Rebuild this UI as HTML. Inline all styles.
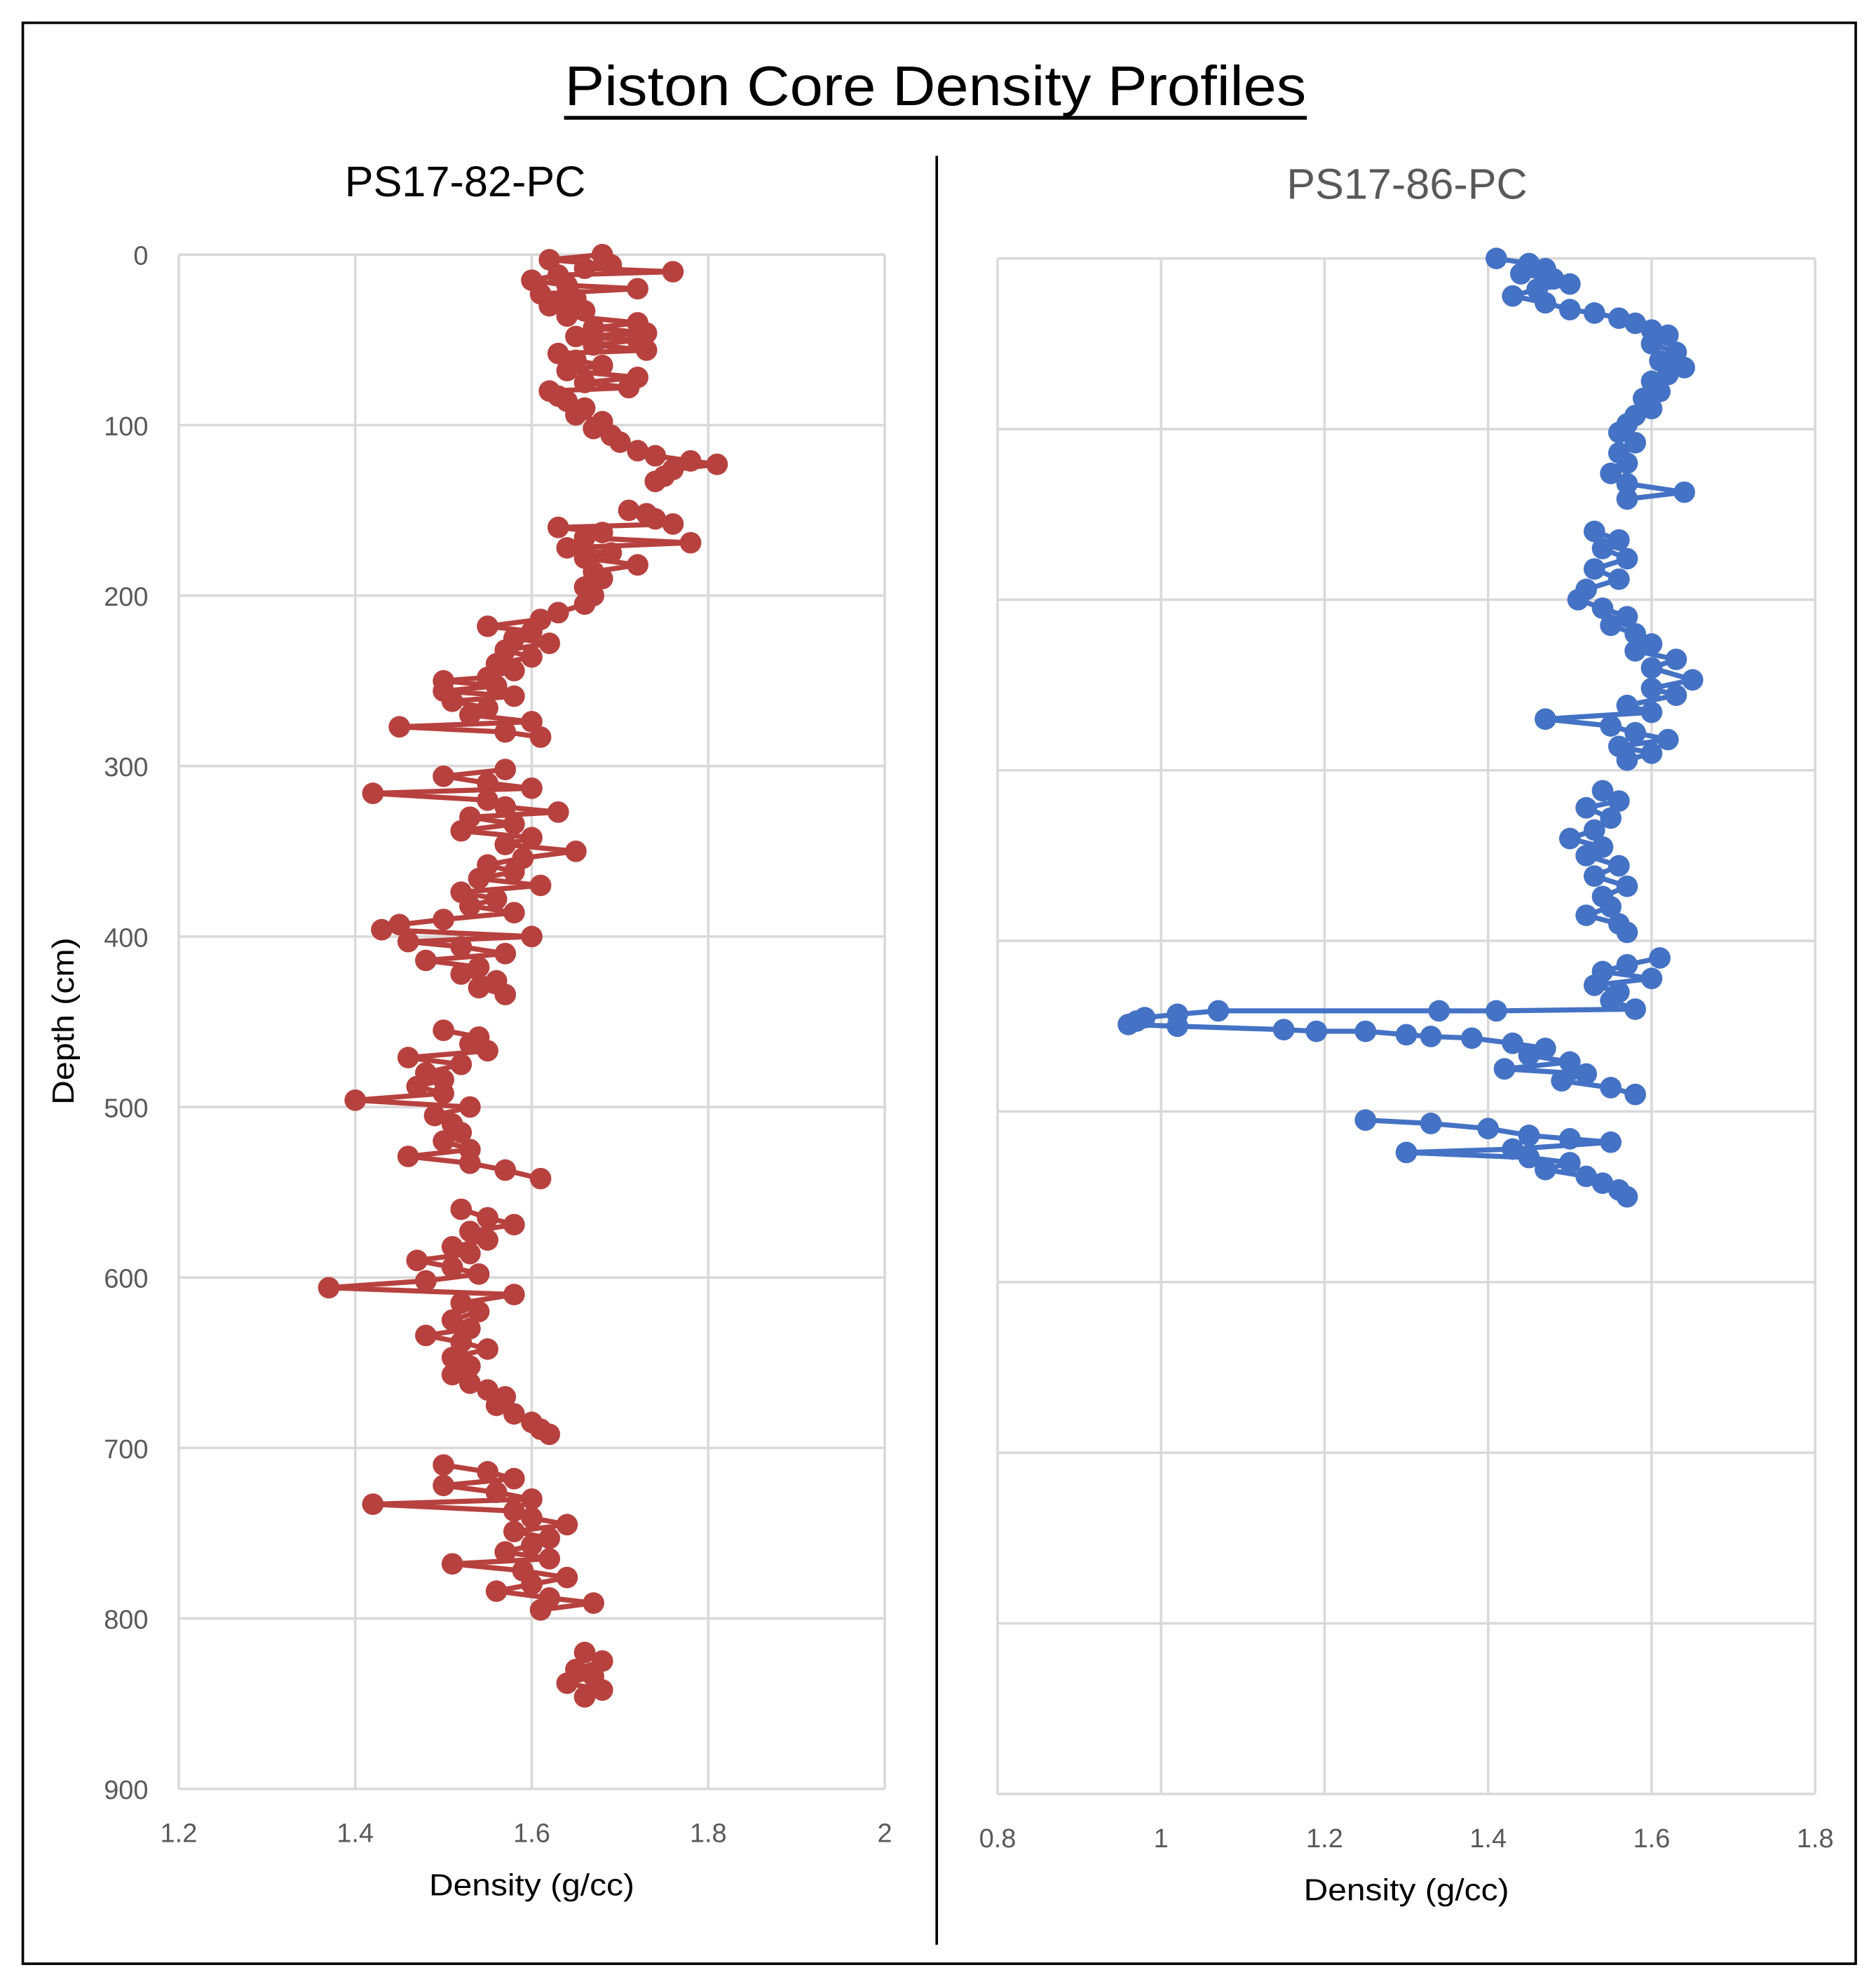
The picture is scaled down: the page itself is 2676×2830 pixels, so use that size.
<!DOCTYPE html>
<html><head><meta charset="utf-8"><style>
html,body{margin:0;padding:0;background:#fff;}
svg{display:block;}
text{font-family:"Liberation Sans",sans-serif;}
</style></head><body>
<svg id="chart" width="2676" height="2830" viewBox="0 0 1480 1566" preserveAspectRatio="none" xmlns="http://www.w3.org/2000/svg">
<rect x="18" y="18" width="1446" height="1532" fill="#fff" stroke="#000" stroke-width="2"/>
<text x="738" y="83" text-anchor="middle" font-size="44" textLength="585" lengthAdjust="spacingAndGlyphs" fill="#000">Piston Core Density Profiles</text>
<line x1="445" y1="93" x2="1031" y2="93" stroke="#000" stroke-width="3"/>
<line x1="739" y1="123" x2="739" y2="1535" stroke="#000" stroke-width="2"/>
<text x="367" y="155" text-anchor="middle" font-size="34" textLength="190" lengthAdjust="spacingAndGlyphs" fill="#000">PS17-82-PC</text>
<text x="1110" y="157" text-anchor="middle" font-size="34" textLength="190" lengthAdjust="spacingAndGlyphs" fill="#595959">PS17-86-PC</text>
<g id="left"></g>
<g id="right"></g>
</svg>
<script>
const leftDepth=[0,3,6,8,10,12,15,18,20,23,26,28,30,33,36,40,43,46,48,50,53,56,58,62,65,68,72,75,78,80,83,86,90,94,98,102,106,110,115,118,121,123,126,130,133,null,150,152,155,158,160,163,166,169,172,175,178,182,186,190,195,200,205,210,214,218,221,225,228,232,236,240,244,248,250,253,256,259,262,266,270,274,277,280,283,null,302,306,310,313,316,320,324,327,330,334,338,342,346,350,354,358,362,366,370,374,378,382,386,390,393,396,400,403,406,410,414,418,422,426,430,434,null,455,459,463,467,471,475,480,484,488,492,496,500,505,510,515,520,525,529,533,537,542,null,560,565,569,573,578,582,586,590,594,598,602,606,610,615,620,625,630,634,638,642,647,652,657,662,666,670,675,680,685,689,692,null,710,714,718,722,726,730,733,737,741,745,749,753,757,761,765,768,772,776,780,784,788,791,795,null,820,825,830,834,838,842,846];
const leftDensity=[1.68,1.62,1.69,1.66,1.76,1.63,1.6,1.64,1.72,1.61,1.65,1.63,1.62,1.66,1.64,1.72,1.67,1.73,1.65,1.72,1.67,1.73,1.63,1.65,1.68,1.64,1.72,1.66,1.71,1.62,1.63,1.64,1.66,1.65,1.68,1.67,1.69,1.7,1.72,1.74,1.78,1.81,1.76,1.75,1.74,null,1.71,1.73,1.74,1.76,1.63,1.68,1.66,1.78,1.64,1.69,1.66,1.72,1.67,1.68,1.66,1.67,1.66,1.63,1.61,1.55,1.6,1.58,1.62,1.57,1.6,1.56,1.58,1.55,1.5,1.56,1.5,1.58,1.51,1.55,1.53,1.6,1.45,1.57,1.61,null,1.57,1.5,1.55,1.6,1.42,1.55,1.57,1.63,1.53,1.58,1.52,1.6,1.57,1.65,1.59,1.55,1.58,1.54,1.61,1.52,1.56,1.53,1.58,1.5,1.45,1.43,1.6,1.46,1.52,1.57,1.48,1.54,1.52,1.56,1.54,1.57,null,1.5,1.54,1.53,1.55,1.46,1.52,1.48,1.5,1.47,1.5,1.4,1.53,1.49,1.51,1.52,1.5,1.53,1.46,1.53,1.57,1.61,null,1.52,1.55,1.58,1.53,1.55,1.51,1.53,1.47,1.51,1.54,1.48,1.37,1.58,1.52,1.54,1.51,1.53,1.48,1.52,1.55,1.51,1.53,1.51,1.53,1.55,1.57,1.56,1.58,1.6,1.61,1.62,null,1.5,1.55,1.58,1.5,1.56,1.6,1.42,1.58,1.6,1.64,1.58,1.62,1.6,1.57,1.62,1.51,1.59,1.64,1.6,1.56,1.62,1.67,1.61,null,1.66,1.68,1.65,1.67,1.64,1.68,1.66];
const rightDepth=[0,3,6,9,12,15,18,22,26,30,32,35,38,42,45,50,55,60,64,68,72,78,82,88,92,97,102,108,114,120,126,132,137,141,null,160,165,170,176,182,188,194,200,205,210,215,220,226,230,235,240,247,252,256,262,266,270,274,278,282,286,290,294,null,312,318,322,328,335,340,345,350,356,362,368,374,380,385,390,395,null,410,414,418,422,426,430,435,440,441,441,441,443,445,447,449,450,452,453,453,455,456,457,460,463,467,471,475,478,482,486,490,null,505,507,510,514,516,518,522,524,527,530,534,538,542,546,550];
const rightDensity=[1.41,1.45,1.47,1.44,1.48,1.5,1.46,1.43,1.47,1.5,1.53,1.56,1.58,1.6,1.62,1.6,1.63,1.61,1.64,1.62,1.6,1.61,1.59,1.6,1.58,1.57,1.56,1.58,1.56,1.57,1.55,1.57,1.64,1.57,null,1.53,1.56,1.54,1.57,1.53,1.56,1.52,1.51,1.54,1.57,1.55,1.58,1.6,1.58,1.63,1.6,1.65,1.6,1.63,1.57,1.6,1.47,1.55,1.58,1.62,1.56,1.6,1.57,null,1.54,1.56,1.52,1.55,1.53,1.5,1.54,1.52,1.56,1.53,1.57,1.54,1.55,1.52,1.56,1.57,null,1.61,1.57,1.54,1.6,1.53,1.56,1.55,1.58,1.41,1.34,1.07,1.02,0.98,0.97,0.96,1.02,1.15,1.19,1.25,1.3,1.33,1.38,1.43,1.47,1.45,1.5,1.42,1.52,1.49,1.55,1.58,null,1.25,1.33,1.4,1.45,1.5,1.55,1.43,1.3,1.45,1.5,1.47,1.52,1.54,1.56,1.57];
const leftXTicks=["1.2","1.4","1.6","1.8","2"];
const rightXTicks=["0.8","1","1.2","1.4","1.6","1.8"];
const yTicks=["0","100","200","300","400","500","600","700","800","900"];

const NS="http://www.w3.org/2000/svg";
function mk(parent,tag,attrs){const e=document.createElementNS(NS,tag);for(const k in attrs)e.setAttribute(k,attrs[k]);parent.appendChild(e);return e;}

function drawChart(g,cfg){
  const xs=v=>cfg.x0+(v-cfg.xmin)/(cfg.xmax-cfg.xmin)*(cfg.x1-cfg.x0);
  const ys=v=>cfg.y0+(v-0)/(900)*(cfg.y1-cfg.y0);
  cfg.xticks.forEach(t=>{
    const x=xs(parseFloat(t));
    const l=mk(g,'line',{x1:x,x2:x,y1:cfg.y0,y2:cfg.y1,stroke:'#d9d9d9','stroke-width':2});
    
    
    const tx=mk(g,'text',{x:x,y:cfg.y1+42,'text-anchor':'middle','font-size':21,fill:'#595959'});
    tx.textContent=t;
    
    
  });
  yTicks.forEach(t=>{
    const y=ys(parseFloat(t));
    const l=mk(g,'line',{x1:cfg.x0,x2:cfg.x1,y1:y,y2:y,stroke:'#d9d9d9','stroke-width':2});
    
    
    if(cfg.ylabels){
      const tx=mk(g,'text',{x:cfg.x0-24,y:y+8,'text-anchor':'end','font-size':21,fill:'#595959'});
      tx.textContent=t;
      
      
    }
  });
  let d='',pen=false;
  cfg.depth.forEach((dv,i)=>{
    const v=cfg.dens[i];
    if(dv===null||v===null){pen=false;return;}
    d+=(pen?'L':'M')+xs(v).toFixed(1)+' '+ys(dv).toFixed(1);pen=true;
  });
  const p=mk(g,'path',{d:d,fill:'none',stroke:cfg.color,'stroke-width':4});
  
  
  cfg.depth.forEach((dv,i)=>{
    const v=cfg.dens[i];
    if(dv===null||v===null)return;
    const c=mk(g,'ellipse',{cx:xs(v),cy:ys(dv),rx:8.5,ry:8.5,fill:cfg.color});
    
    
  });
  const xt=mk(g,'text',{x:(cfg.x0+cfg.x1)/2,y:cfg.y1+84,'text-anchor':'middle','font-size':24,fill:'#000',textLength:162,lengthAdjust:'spacingAndGlyphs'});
  xt.textContent='Density (g/cc)';
  
  
}
drawChart(document.getElementById('left'),{x0:141,x1:698,y0:201,y1:1412,xmin:1.2,xmax:2.0,xticks:leftXTicks,ylabels:true,depth:leftDepth,dens:leftDensity,color:'#b7413e'});
drawChart(document.getElementById('right'),{x0:787,x1:1432,y0:204,y1:1416,xmin:0.8,xmax:1.8,xticks:rightXTicks,ylabels:false,depth:rightDepth,dens:rightDensity,color:'#4472c4'});
const yt=mk(document.getElementById('left'),'text',{x:0,y:0,'text-anchor':'middle','font-size':24,fill:'#000',transform:'translate(58,806) rotate(-90)',textLength:132,lengthAdjust:'spacingAndGlyphs'});
yt.textContent='Depth (cm)';


</script>
</body></html>
